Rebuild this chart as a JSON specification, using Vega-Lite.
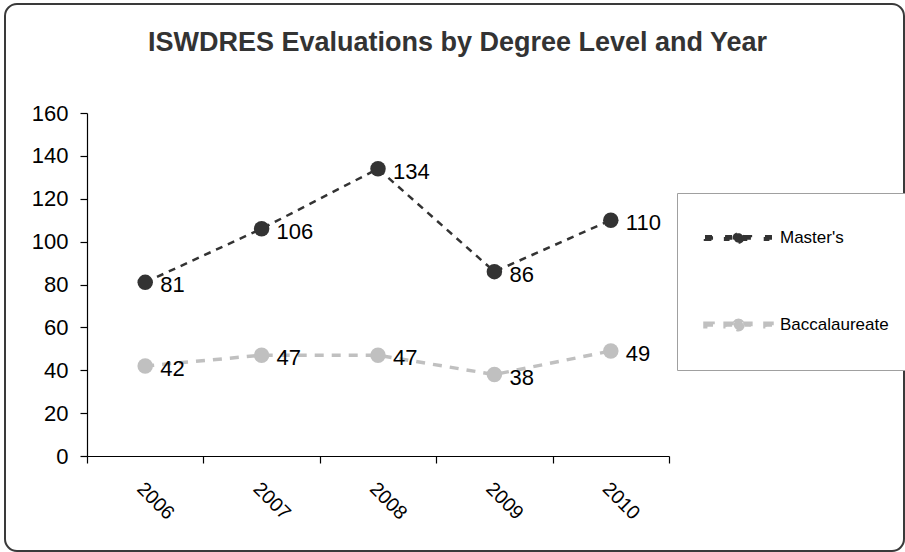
{
  "$schema": "https://vega.github.io/schema/vega-lite/v6.json",
  "width": 899,
  "height": 547,
  "autosize": {"type": "none"},
  "padding": {"left": 5, "top": 4, "right": 1, "bottom": 1},
  "background": "white",
  "view": {"stroke": "#3a3a3a", "strokeWidth": 2, "cornerRadius": 12, "fill": "white"},
  "title": {
    "text": "ISWDRES Evaluations by Degree Level and Year",
    "font": "Liberation Sans",
    "fontSize": 27,
    "fontWeight": "bold",
    "color": "#333333",
    "anchor": "middle",
    "frame": "group",
    "offset": -53,
    "dx": 3
  },
  "config": {
    "axis": {
      "grid": false,
      "domainColor": "black",
      "domainWidth": 1.2,
      "tickColor": "black",
      "tickWidth": 1.2,
      "tickSize": 7,
      "labelFont": "Liberation Sans",
      "labelFontSize": 22,
      "labelColor": "black",
      "title": null
    }
  },
  "data": {
    "values": [
      {"year": 2006, "level": "Master's", "count": 81},
      {"year": 2007, "level": "Master's", "count": 106},
      {"year": 2008, "level": "Master's", "count": 134},
      {"year": 2009, "level": "Master's", "count": 86},
      {"year": 2010, "level": "Master's", "count": 110},
      {"year": 2006, "level": "Baccalaureate", "count": 42},
      {"year": 2007, "level": "Baccalaureate", "count": 47},
      {"year": 2008, "level": "Baccalaureate", "count": 47},
      {"year": 2009, "level": "Baccalaureate", "count": 38},
      {"year": 2010, "level": "Baccalaureate", "count": 49}
    ]
  },
  "encoding": {
    "x": {
      "field": "year",
      "type": "quantitative",
      "scale": {"domain": [2005.5, 2010.5], "range": [82, 664], "nice": false, "zero": false},
      "axis": {
        "orient": "bottom",
        "offset": -95,
        "values": [2005.5, 2006.5, 2007.5, 2008.5, 2009.5, 2010.5],
        "labelExpr": "datum.value > 2010 ? '' : toString(datum.value + 0.5)",
        "labelOffset": 59,
        "labelAngle": 45,
        "labelAlign": "left",
        "labelBaseline": "top",
        "labelPadding": 16,
        "labelFlush": false,
        "labelOverlap": false,
        "labelFontSize": 19.5
      }
    },
    "y": {
      "field": "count",
      "type": "quantitative",
      "scale": {"domain": [0, 160], "range": [452, 109], "nice": false},
      "axis": {
        "orient": "left",
        "offset": -82,
        "values": [0, 20, 40, 60, 80, 100, 120, 140, 160],
        "labelPadding": 12
      }
    },
    "color": {
      "field": "level",
      "type": "nominal",
      "scale": {"domain": ["Master's", "Baccalaureate"], "range": ["#333333", "#c0c0c0"]},
      "legend": {
        "title": null,
        "orient": "none",
        "legendX": 672,
        "legendY": 189,
        "direction": "vertical",
        "padding": 26,
        "rowPadding": 49,
        "clipHeight": 38,
        "symbolSize": 4489,
        "symbolType": "M-1,-0.05H-0.76V0.05H-1Z M-0.4,-0.05H-0.19V0.05H-0.4Z M0.19,-0.05H0.37V0.05H0.19Z M0.79,-0.05H1V0.05H0.79Z M0.14,0A0.14,0.14 0 1,1 -0.14,0A0.14,0.14 0 1,1 0.14,0Z",
        "symbolStrokeWidth": 0,
        "labelOffset": 6,
        "labelFont": "Liberation Sans",
        "labelFontSize": 17,
        "labelColor": "black",
        "strokeColor": "#a0a0a0",
        "fillColor": "white",
        "encode": {
          "symbols": {
            "update": {
              "fill": {"scale": "color", "field": "value"},
              "stroke": {"value": "transparent"},
              "opacity": {"value": 1}
            }
          }
        }
      }
    }
  },
  "layer": [
    {
      "mark": {"type": "line"},
      "encoding": {
        "strokeDash": {
          "field": "level",
          "type": "nominal",
          "scale": {"domain": ["Master's", "Baccalaureate"], "range": [[7, 6], [9, 8]]},
          "legend": null
        },
        "strokeWidth": {
          "field": "level",
          "type": "nominal",
          "scale": {"domain": ["Master's", "Baccalaureate"], "range": [2.5, 3.5]},
          "legend": null
        }
      }
    },
    {
      "mark": {"type": "point", "filled": true, "size": 240, "opacity": 1}
    },
    {
      "mark": {
        "type": "text",
        "align": "left",
        "baseline": "middle",
        "dx": 15,
        "dy": 3,
        "font": "Liberation Sans",
        "fontSize": 22
      },
      "encoding": {
        "text": {"field": "count", "type": "quantitative"},
        "color": {"value": "black"}
      }
    }
  ]
}
